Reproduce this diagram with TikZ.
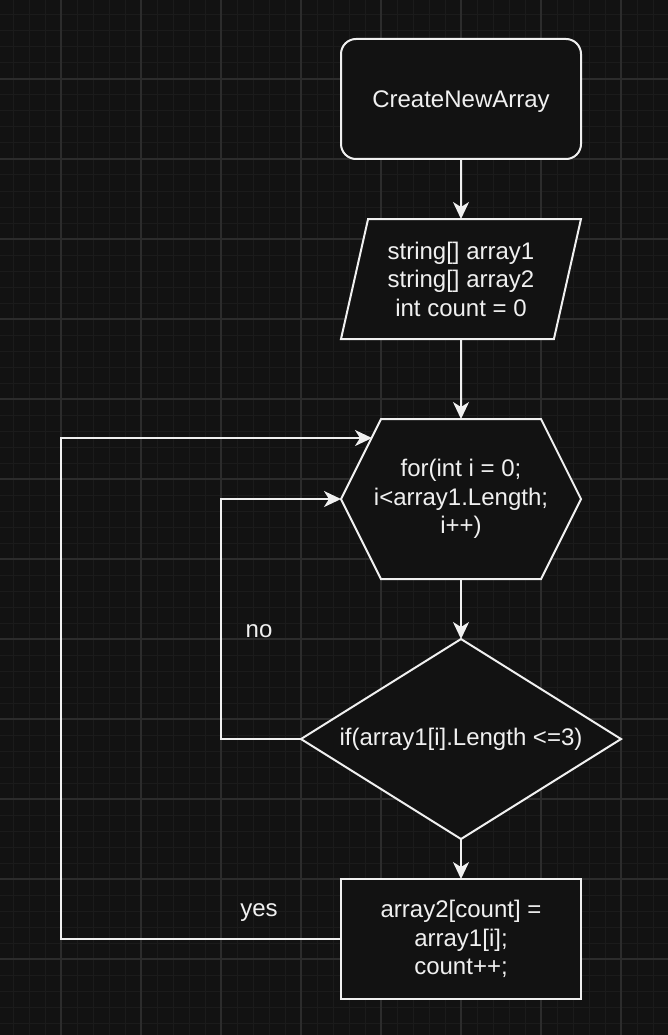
\documentclass[tikz,border=0pt]{standalone}
\usepackage{fontspec}
\setmainfont{Liberation Sans}
\usepackage{xcolor}
\usetikzlibrary{shapes.geometric, positioning, arrows.meta, backgrounds}
\definecolor{canvas}{HTML}{121212}
\definecolor{gridmajor}{HTML}{2C2C2C}
\definecolor{gridminor}{HTML}{1B1B1B}
\definecolor{ink}{HTML}{F0F0F0}

\begin{document}
\begin{tikzpicture}[
		x=1pt, y=-1pt,
		every node/.style={
				text=ink, align=center, outer sep=0pt,
				font=\fontsize{24}{28.5}\selectfont % testo grande come nel disegno
			},
		block/.style={
				draw=ink, fill=canvas, line width=2pt,
				minimum width=240pt, minimum height=120pt
			},
		terminal/.style={block, rectangle, rounded corners=15pt, text depth=0pt},
		inputbox/.style={
				block, trapezium,
				trapezium left angle=71.57, trapezium right angle=108.43,
				trapezium stretches body
			},
		decision/.style={
				block, diamond, aspect=1.6, inner sep=0pt,
				minimum width=320pt, minimum height=200pt
			},
		hexbox/.style={minimum width=240pt, minimum height=160pt},
		flow/.style={
				draw=ink, line width=2pt,
				-{Stealth[length=17pt, width=16pt, inset=5pt]}
			}
	]
	\useasboundingbox (0,0) rectangle (668,1035);
	\begin{scope}[on background layer]
		\fill[canvas] (0,0) rectangle (668,1035);
		\foreach \gx in {13,29,...,668} \draw[gridminor, line width=1pt] (\gx,0) -- (\gx,1035);
		\foreach \gy in {15,31,...,1035} \draw[gridminor, line width=1pt] (0,\gy) -- (668,\gy);
		\foreach \gx in {61,141,...,668} \draw[gridmajor, line width=1.5pt] (\gx,0) -- (\gx,1035);
		\foreach \gy in {79,159,...,1035} \draw[gridmajor, line width=1.5pt] (0,\gy) -- (668,\gy);
	\end{scope}

	\node[terminal] (start) at (461,99) {CreateNewArray};
	\node[inputbox, below=60pt of start] (params) {string[] array1\\ string[] array2\\ int count = 0};
	\node[hexbox, below=80pt of params] (loop) {for(int i = 0;\\ i<array1.Length;\\ i++)};
	\begin{scope}[on background layer]
		\draw[draw=ink, fill=canvas, line width=2pt]
		([xshift=40pt]loop.north west) -- ([xshift=-40pt]loop.north east) -- (loop.east)
		-- ([xshift=-40pt]loop.south east) -- ([xshift=40pt]loop.south west) -- (loop.west) -- cycle;
	\end{scope}
	\node[decision, below=60pt of loop] (check) {if(array1[i].Length <=3)};
	\node[block, below=40pt of check] (assign) {array2[count] =\\ array1[i];\\ count++;};

	\coordinate (entry) at ([xshift=31pt, yshift=61pt]loop.west);

	\draw[flow] (start) -- (params);
	\draw[flow] (params) -- (loop);
	\draw[flow] (loop) -- (check);
	\draw[flow] (check) -- (assign);
	\draw[flow] (check.west) -- ++(-80,0) |- (loop.west);
	\draw[flow] (assign.west) -- ++(-280,0) |- (entry);

	\node (nolabel) at (259,631) {no};
	\node (yeslabel) at (259,913) {yes};
\end{tikzpicture}
\end{document}
